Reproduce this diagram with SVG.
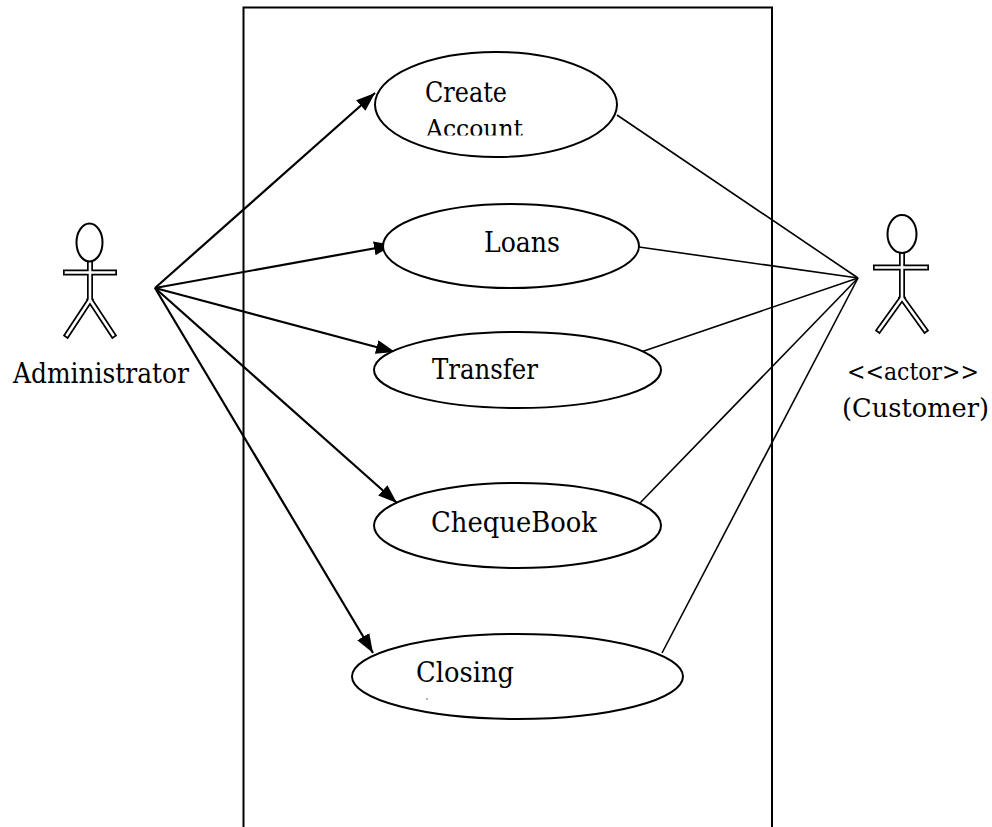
<svg xmlns="http://www.w3.org/2000/svg" width="992" height="827" viewBox="0 0 992 827">
<style>
.uc{fill:#fff;stroke:#000;stroke-width:2}
text{font-family:'DejaVu Serif','Liberation Serif',serif;fill:#000}
.arr{stroke:#000;stroke-width:2.2;fill:none;marker-end:url(#ah)}
.ln{stroke:#000;stroke-width:1.6;fill:none}
.fo{stroke:#000;stroke-width:6;fill:none;stroke-linecap:square}
.fi{stroke:#fff;stroke-width:2.6;fill:none;stroke-linecap:square}
.hd{fill:#fff;stroke:#000;stroke-width:2}
</style>
<defs>
<marker id="ah" markerUnits="userSpaceOnUse" markerWidth="22" markerHeight="16" refX="19" refY="7" orient="auto">
<path d="M0,0 L19,7 L0,14 Z" fill="#000"/>
</marker>
<clipPath id="accClip"><rect x="400" y="100" width="160" height="35.5"/></clipPath>
</defs>
<rect x="0" y="0" width="992" height="827" fill="#fff"/>
<g id="system">
<path d="M243.5,827 V7.5 H772 V827" fill="none" stroke="#000" stroke-width="2"/>
</g>
<g id="connectors">
<line class="arr" x1="155" y1="288" x2="375" y2="93"/>
<line class="arr" x1="155" y1="288" x2="393" y2="245"/>
<line class="arr" x1="155" y1="288" x2="395" y2="352"/>
<line class="arr" x1="155" y1="288" x2="397" y2="503"/>
<line class="arr" x1="155" y1="288" x2="373" y2="653"/>
<line class="ln" x1="858" y1="278" x2="617" y2="115"/>
<line class="ln" x1="858" y1="278" x2="639" y2="247"/>
<line class="ln" x1="858" y1="278" x2="641" y2="352"/>
<line class="ln" x1="858" y1="278" x2="640" y2="503"/>
<line class="ln" x1="858" y1="278" x2="662" y2="653"/>
</g>
<g id="uc-create">
<ellipse class="uc" cx="496" cy="104.5" rx="121" ry="52.5"/>
<text x="425" y="102" font-size="27" textLength="82" lengthAdjust="spacingAndGlyphs">Create</text>
<text x="426" y="137" font-size="24" textLength="97" lengthAdjust="spacingAndGlyphs" clip-path="url(#accClip)">Account</text>
</g>
<g id="uc-loans">
<ellipse class="uc" cx="511" cy="246" rx="128" ry="42"/>
<text x="484" y="252" font-size="27" textLength="76" lengthAdjust="spacingAndGlyphs">Loans</text>
</g>
<g id="uc-transfer">
<ellipse class="uc" cx="517.5" cy="370" rx="143.5" ry="38"/>
<text x="432" y="379" font-size="27" textLength="106" lengthAdjust="spacingAndGlyphs">Transfer</text>
</g>
<g id="uc-cheque">
<ellipse class="uc" cx="517.5" cy="525.5" rx="143.5" ry="42.5"/>
<text x="431" y="532" font-size="27" textLength="166" lengthAdjust="spacingAndGlyphs">ChequeBook</text>
</g>
<g id="uc-closing">
<ellipse class="uc" cx="517.5" cy="676.5" rx="165.5" ry="42.5"/>
<text x="416" y="682" font-size="27" textLength="98" lengthAdjust="spacingAndGlyphs">Closing</text>
<circle cx="427" cy="699" r="0.8" fill="#555"/>
</g>
<g id="actor-admin">
<path class="fo" d="M90,262 V300 M66,272.5 H114 M90,300 L67,335 M90,300 L113,335"/>
<path class="fi" d="M90,262 V300 M66,272.5 H114 M90,300 L67,335 M90,300 L113,335"/>
<ellipse class="hd" cx="89.5" cy="242.5" rx="13" ry="19"/>
<text x="13" y="383" font-size="27" textLength="176" lengthAdjust="spacingAndGlyphs">Administrator</text>
</g>
<g id="actor-customer">
<path class="fo" d="M902,253 V298 M876,267.5 H926 M902,298 L879,330 M902,298 L925,330"/>
<path class="fi" d="M902,253 V298 M876,267.5 H926 M902,298 L879,330 M902,298 L925,330"/>
<ellipse class="hd" cx="902" cy="234" rx="14.5" ry="19"/>
<text x="847" y="380" font-size="24" textLength="132" lengthAdjust="spacingAndGlyphs">&lt;&lt;actor&gt;&gt;</text>
<text x="842" y="417" font-size="26" textLength="147" lengthAdjust="spacingAndGlyphs">(Customer)</text>
</g>
</svg>
